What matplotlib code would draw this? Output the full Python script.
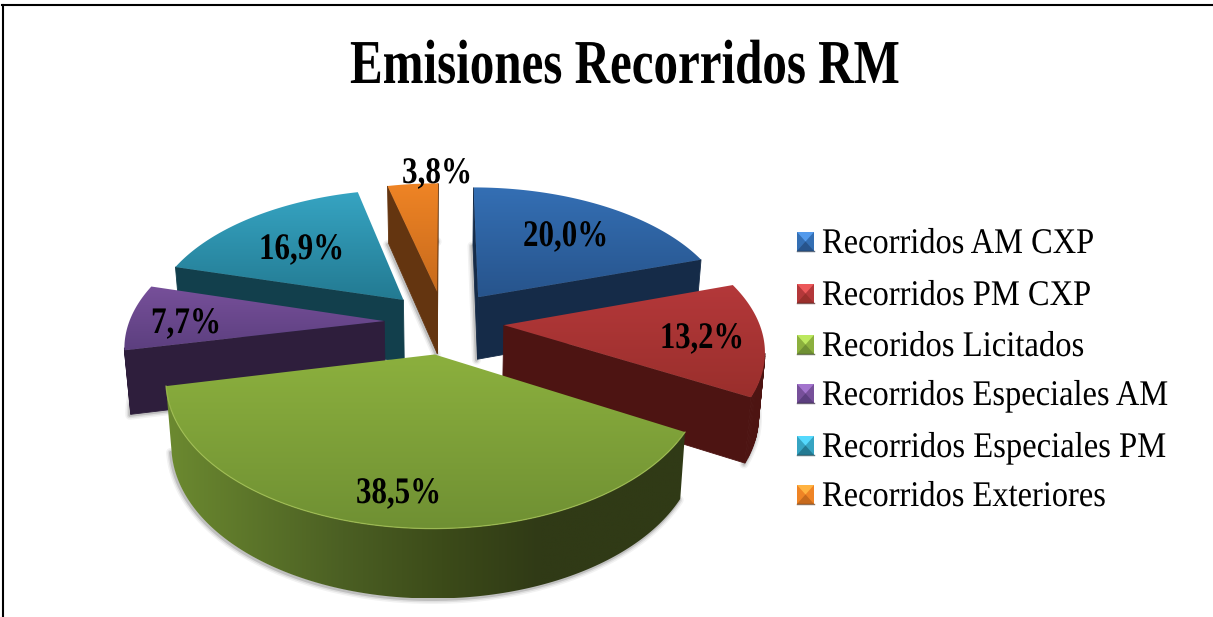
import numpy as np
import matplotlib
matplotlib.use("Agg")
import matplotlib.pyplot as plt
from matplotlib.patches import Polygon
from matplotlib.patheffects import AbstractPathEffect
from matplotlib.transforms import Affine2D

# ---- chart data -------------------------------------------------------
title = "Emisiones Recorridos RM"
categories = ["Recorridos AM CXP", "Recorridos PM CXP", "Recoridos Licitados",
              "Recorridos Especiales AM", "Recorridos Especiales PM", "Recorridos Exteriores"]
shares = [20.0, 13.2, 38.5, 7.7, 16.9, 3.8]

# ---- slice colours: top-face gradient ends, wall tone ------------------
face_light = ["#346fb4", "#b4383a", "#8cb03e", "#77509a", "#36a4c2", "#ef8425"]
face_dark = ["#27548c", "#9a2f2c", "#6f9033", "#5c3f7f", "#237a92", "#c76a1c"]
wall_tone = ["#152b48", "#4d1412", "#33401a", "#2e1e3c", "#123f4c", "#643510"]
green_arc_stops = [(0.0, "#6c8a30"), (0.34, "#4b5f23"), (0.53, "#3c4b19"),
                   (0.72, "#303a16"), (1.0, "#303a16")]

# ---- layout, in figure pixels -----------------------------------------
W, H = 1213, 617
CX, CY = 444, 322        # pie centre on the screen
AX_X, AX_Y = 255, 134.6  # horizontal and vertical semi-axes
PERSP = 0.16             # perspective strength on the top face
EXPLODE = 0.235          # radial pull of each slice
DEPTH = 63               # wall height
DEPTH_PERSP = 0.08
TAPER = 0.98             # walls lean slightly inward towards the base

label_lefts = [(523, 246), (660, 348), (356, 503), (151, 333), (259, 259), (402, 183)]
label_width = [85, 84, 85, 70, 85, 70]

legend_text_x = 822
legend_baselines = [253, 305, 356, 405, 457, 506]
legend_widths = [272, 269, 262, 346, 344, 284]
legend_box_x = (797, 814)
legend_box_half = 9.5


class HorizontalSqueeze(AbstractPathEffect):
    """Draws text with its glyphs narrowed along the baseline."""

    def __init__(self, factor):
        super().__init__()
        self.factor = factor

    def draw_path(self, renderer, gc, tpath, affine, rgbFace):
        renderer.draw_path(gc, tpath, Affine2D().scale(self.factor, 1) + affine, rgbFace)


def project(x, y):
    w = 1.0 / (1.0 + PERSP * y)
    return CX + AX_X * x * w, CY - AX_Y * y * w


def base_of(x, y):
    """Screen position of the lower rim below a plane point."""
    sx, sy = project(x, y)
    d = DEPTH / (1.0 + DEPTH_PERSP * y)
    return CX + (sx - CX) * TAPER, sy + d


def gradient_fill(outline, cmap, vertical, zorder):
    """Fills a closed outline with a linear colour ramp."""
    outline = np.asarray(outline)
    clip = Polygon(outline, closed=True, transform=ax.transData,
                   facecolor="none", edgecolor="none")
    ax.add_patch(clip)
    ramp = np.linspace(0, 1, 256)
    ramp = ramp.reshape(-1, 1) if vertical else ramp.reshape(1, -1)
    xs, ys = outline[:, 0], outline[:, 1]
    img = ax.imshow(ramp, cmap=cmap, aspect="auto", interpolation="bilinear",
                    extent=(xs.min(), xs.max(), ys.max(), ys.min()), zorder=zorder)
    img.set_clip_path(clip)


fig = plt.figure(figsize=(W / 100, H / 100), dpi=100)
ax = fig.add_axes([0, 0, 1, 1])
ax.set_xlim(0, W)
ax.set_ylim(H, 0)
ax.axis("off")
serif = "Liberation Serif"

# Frame: top rule across the sheet and a single left side
ax.plot([3, 3], [617, 5], color="black", lw=1.5, zorder=1)
ax.plot([2, 1213], [5, 5], color="black", lw=1.5, zorder=1)

# Slices, walls first then the top face, painted back to front
fractions = np.array(shares) / sum(shares)
edges = np.concatenate([[0], np.cumsum(fractions)]) * 2 * np.pi
paint_order = [5, 4, 0, 3, 1, 2]
LargeArcMap = matplotlib.colors.LinearSegmentedColormap.from_list("arc", green_arc_stops)

for order, idx in enumerate(paint_order):
    z = 10 + order
    a0, a1 = edges[idx], edges[idx + 1]
    mid = (a0 + a1) / 2
    ox, oy = EXPLODE * np.sin(mid), EXPLODE * np.cos(mid)
    theta = np.linspace(a0, a1, max(12, int((a1 - a0) * 60)))
    px = np.concatenate([[ox], ox + np.sin(theta), [ox]])
    py = np.concatenate([[oy], oy + np.cos(theta), [oy]])
    tx, ty = project(px, py)
    bx, by = base_of(px, py)

    # soft shadow along the lower rim
    for lw, alpha in [(6.5, 0.05), (4.3, 0.08), (2.2, 0.14)]:
        ax.plot(bx[:-1] - 1, by[:-1] + 1, color="black", lw=lw, alpha=alpha,
                solid_capstyle="round", zorder=z)

    if idx == 2:
        # the large slice's curved wall is one continuous ramp
        arc_top = np.column_stack([tx[1:-1], ty[1:-1]])
        arc_base = np.column_stack([bx[1:-1], by[1:-1]])
        gradient_fill(np.vstack([arc_top, arc_base[::-1]]), LargeArcMap, False, z + 0.1)
    else:
        for j in range(len(px) - 1):
            if tx[j + 1] >= tx[j]:
                continue
            ax.add_patch(Polygon([(tx[j], ty[j]), (tx[j + 1], ty[j + 1]),
                                  (bx[j + 1], by[j + 1]), (bx[j], by[j])],
                                 closed=True, facecolor=wall_tone[idx],
                                 edgecolor=wall_tone[idx], lw=0.6, zorder=z + 0.1))

    cmap = matplotlib.colors.LinearSegmentedColormap.from_list("f", [face_light[idx], face_dark[idx]])
    gradient_fill(np.column_stack([tx, ty]), cmap, True, z + 0.2)

    # thin highlight where the large slice's face meets its rim
    if idx == 2:
        ax.plot(tx[1:-1], ty[1:-1], color="#a2c052", lw=0.9, alpha=0.8, zorder=z + 0.3)
ax.set_xlim(0, W)
ax.set_ylim(H, 0)


def fitted_text(x, baseline, s, size, width, weight="normal", zorder=30):
    """Left-anchored serif text narrowed until it spans the given pixel width."""
    t = ax.text(x, baseline, s, family=serif, fontsize=size, weight=weight, color="black",
                ha="left", va="baseline", zorder=zorder)
    natural = t.get_window_extent(fig.canvas.get_renderer()).width
    t.set_path_effects([HorizontalSqueeze(width / natural)])
    return t


fitted_text(350, 83, title, 45, 550, weight="bold")

for (x, y), w, v in zip(label_lefts, label_width, shares):
    fitted_text(x, y, f"{v:.1f}".replace(".", ",") + "%", 27, w, weight="bold")

# Legend: bevelled swatches and entry names
for i, name in enumerate(categories):
    fitted_text(legend_text_x, legend_baselines[i], name, 26, legend_widths[i])
    yc = legend_baselines[i] - 11.5
    x0, x1 = legend_box_x
    y0, y1 = yc - legend_box_half, yc + legend_box_half
    xm, ym = (x0 + x1) / 2, yc
    ax.add_patch(Polygon([(x0, y0), (x1, y0), (x1, y1), (x0, y1)],
                         facecolor=face_light[i], edgecolor="none", zorder=20))
    light = tuple(min(1, c * 1.2 + 0.08) for c in matplotlib.colors.to_rgb(face_light[i]))
    ax.add_patch(Polygon([(x0, y0), (x1, y0), (xm, ym)], facecolor=light, edgecolor="none", zorder=21))
    ax.add_patch(Polygon([(x0, y1), (x1, y1), (xm, ym)], facecolor=face_dark[i], edgecolor="none", zorder=21))
    ax.plot([x0, x1], [y1, y1], color=wall_tone[i], lw=1.0, alpha=0.7, zorder=22)

fig.savefig("out.png", dpi=100, facecolor="white")
